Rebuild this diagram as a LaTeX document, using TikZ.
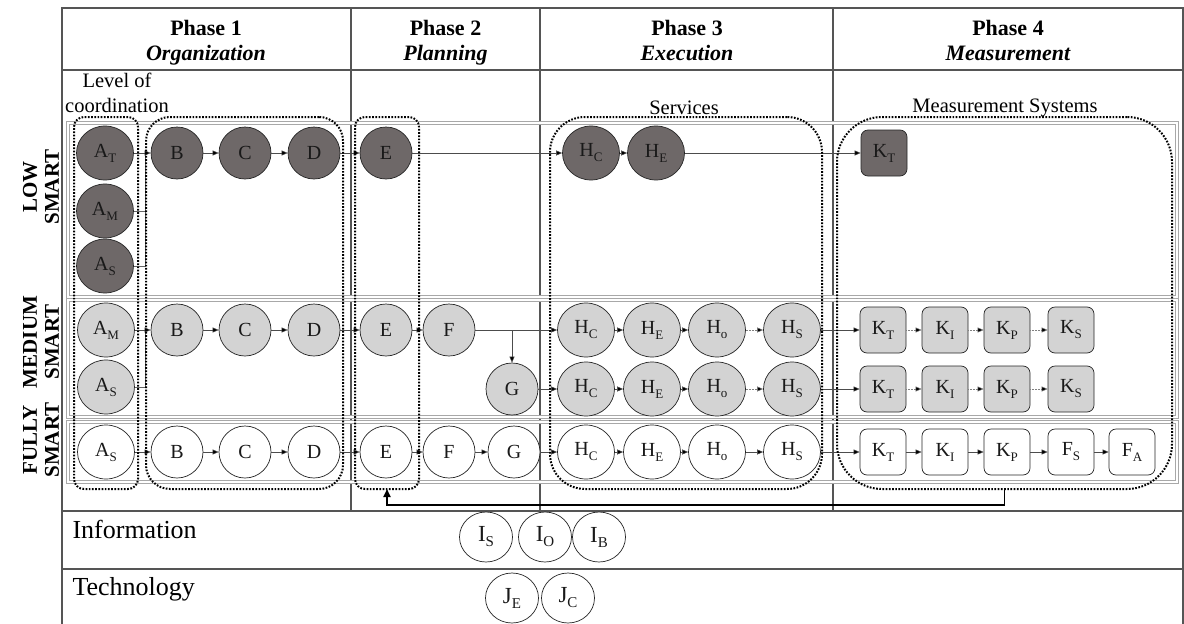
\documentclass[tikz,border=0pt]{standalone}
\usepackage{fontspec}
\setmainfont{Liberation Serif}
\usetikzlibrary{shapes.geometric,arrows.meta}
\definecolor{dkfill}{RGB}{110,104,104}
\definecolor{ltfill}{RGB}{211,211,211}
\definecolor{bandc}{RGB}{168,168,168}
\definecolor{tabc}{RGB}{85,85,85}
\newcommand\mysub[1]{\raisebox{-5pt}{\fontsize{13}{13}\selectfont #1}}
\newcommand\mysubb[1]{\raisebox{-5pt}{\fontsize{15}{15}\selectfont #1}}
\begin{document}
\begin{tikzpicture}[x=1pt,y=-1pt,
  tab/.style={draw=tabc,line width=1.1pt},
  band/.style={draw=bandc,double=white,double distance=1.6pt,line width=0.8pt},
  nd/.style={draw=black!85,line width=0.7pt,inner sep=0pt,font=\fontsize{20}{20}\selectfont,text=black!90},
  ell/.style={nd,ellipse,minimum width=57pt,minimum height=54pt},
  circ/.style={nd,circle,minimum size=52pt},
  kbox/.style={nd,rectangle,rounded corners=7pt,minimum width=46pt,minimum height=46pt},
  infoc/.style={nd,ellipse,minimum width=53pt,minimum height=50pt,font=\fontsize{23}{23}\selectfont},
  dk/.style={fill=dkfill}, lt/.style={fill=ltfill}, wh/.style={fill=white},
  arr/.style={draw=black!70,line width=0.5pt,-{Triangle[length=6pt,width=5pt,fill=black]}},
  darr/.style={arr,densely dotted,draw=gray},
  ln/.style={draw=black!60,line width=0.5pt},
  cont/.style={draw=black,line width=2pt,dash pattern=on 1.7pt off 1.5pt,inner sep=0pt,outer sep=0pt,rectangle,minimum height=372pt},
  fb/.style={draw=black,line width=1.8pt,-{Triangle[length=8pt,width=7pt]}},
  hd/.style={font=\fontsize{22}{22}\selectfont\bfseries,anchor=base},
  hdi/.style={font=\fontsize{22}{22}\selectfont\bfseries\itshape,anchor=base},
  txt/.style={font=\fontsize{20.5}{20.5}\selectfont,anchor=base},
  big/.style={font=\fontsize{26}{26}\selectfont,anchor=base west},
  rowl/.style={rotate=90,align=center,font=\fontsize{21}{22}\selectfont\bfseries}
]
\useasboundingbox (0,0) rectangle (1184,624);
\fill[white] (0,0) rectangle (1184,624);
% table
\draw[tab] (62,624) -- (62,8) -- (1183,8) -- (1183,624);
\draw[tab] (62,70) -- (1183,70);
\draw[tab] (62,511) -- (1183,511);
\draw[tab] (62,569) -- (1183,569);
\foreach \x in {351,540,833} \draw[tab] (\x,8) -- (\x,511);
% bands
\draw[band] (68,123) rectangle (1177,297);
\draw[band] (68,300) rectangle (1177,417);
\draw[band] (68,422) rectangle (1177,482);
% headers
\node[hd] (p1) at (206,35) {Phase 1};
\node[hdi] (p1b) at (206,60) {Organization};
\node[hd] (p2) at (445.5,35) {Phase 2};
\node[hdi] (p2b) at (445.5,60) {Planning};
\node[hd] (p3) at (687,35) {Phase 3};
\node[hdi] (p3b) at (687,60) {Execution};
\node[hd] (p4) at (1008,35) {Phase 4};
\node[hdi] (p4b) at (1008,60) {Measurement};
\node[txt] (lvl1) at (117,87) {Level of};
\node[txt] (lvl2) at (117,112) {coordination};
\node[txt] (srv) at (684,114) {Services};
\node[txt] (msys) at (1005,112) {Measurement Systems};
\node[big] (info) at (69,538) {Information};
\node[big] (tech) at (69,595) {Technology};
\node[rowl] (rlow) at (41,187) {LOW\\SMART};
\node[rowl] (rmed) at (41,342) {MEDIUM\\SMART};
\node[rowl] (rful) at (41,440) {FULLY\\SMART};
% low row
\node[ell,dk] (AT0) at (105,153) {A\mysub{T}};
\node[ell,dk] (AM0) at (105,211) {A\mysub{M}};
\node[ell,dk] (AS0) at (105,266) {A\mysub{S}};
\node[circ,dk] (B0) at (177,153) {B};
\node[circ,dk] (C0) at (245,153) {C};
\node[circ,dk] (D0) at (314,153) {D};
\node[circ,dk] (E0) at (386,153) {E};
\node[ell,dk] (HC0) at (591,153) {H\mysub{C}};
\node[ell,dk] (HE0) at (656,153) {H\mysub{E}};
\node[kbox,dk] (KT0) at (884,153) {K\mysub{T}};
\coordinate (jl) at (145.5,153);
\draw[ln] (AM0.east) -| (jl);
\draw[ln] (AS0.east) -| (jl);
\draw[arr] (AT0) -- (B0);
\draw[arr] (B0) -- (C0);
\draw[arr] (C0) -- (D0);
\draw[arr] (D0) -- (E0);
\draw[arr] (E0) -- (HC0);
\draw[arr] (HC0) -- (HE0);
\draw[arr] (HE0) -- (KT0);
% medium rows
\node[ell,lt] (AM1) at (106,330) {A\mysub{M}};
\node[ell,lt] (AS1) at (106,387) {A\mysub{S}};
\node[circ,lt] (B1) at (177,330) {B};
\node[circ,lt] (C1) at (245,330) {C};
\node[circ,lt] (D1) at (314,330) {D};
\node[circ,lt] (E1) at (386,330) {E};
\node[circ,lt] (F1) at (449,330) {F};
\node[circ,lt] (G1) at (512,389) {G};
\node[ell,lt] (HC1) at (586,330) {H\mysub{C}};
\node[ell,lt] (HE1) at (652,330) {H\mysub{E}};
\node[ell,lt] (Ho1) at (717,330) {H\mysub{o}};
\node[ell,lt] (HS1) at (792,330) {H\mysub{S}};
\node[ell,lt] (HC2) at (586,389) {H\mysub{C}};
\node[ell,lt] (HE2) at (652,389) {H\mysub{E}};
\node[ell,lt] (Ho2) at (717,389) {H\mysub{o}};
\node[ell,lt] (HS2) at (792,389) {H\mysub{S}};
\node[kbox,lt] (KT1) at (883,330) {K\mysub{T}};
\node[kbox,lt] (KI1) at (945,330) {K\mysub{I}};
\node[kbox,lt] (KP1) at (1007,330) {K\mysub{P}};
\node[kbox,lt] (KS1) at (1071,330) {K\mysub{S}};
\node[kbox,lt] (KT2) at (883,389) {K\mysub{T}};
\node[kbox,lt] (KI2) at (945,389) {K\mysub{I}};
\node[kbox,lt] (KP2) at (1007,389) {K\mysub{P}};
\node[kbox,lt] (KS2) at (1071,389) {K\mysub{S}};
\coordinate (jm) at (145.5,330);
\draw[ln] (AS1.east) -| (jm);
\draw[arr] (AM1) -- (B1);
\draw[arr] (B1) -- (C1);
\draw[arr] (C1) -- (D1);
\draw[arr] (D1) -- (E1);
\draw[arr] (E1) -- (F1);
\draw[arr] (F1) -- (HC1);
\draw[arr] (G1 |- F1) -- (G1);
\draw[arr] (G1) -- (HC2);
\draw[arr] (HC1) -- (HE1);
\draw[arr] (HE1) -- (Ho1);
\draw[darr] (Ho1) -- (HS1);
\draw[arr] (HS1) -- (KT1);
\draw[darr] (KT1) -- (KI1);
\draw[darr] (KI1) -- (KP1);
\draw[darr] (KP1) -- (KS1);
\draw[arr] (HC2) -- (HE2);
\draw[arr] (HE2) -- (Ho2);
\draw[darr] (Ho2) -- (HS2);
\draw[arr] (HS2) -- (KT2);
\draw[darr] (KT2) -- (KI2);
\draw[darr] (KI2) -- (KP2);
\draw[darr] (KP2) -- (KS2);
% fully row
\node[ell,wh] (AS3) at (106,452) {A\mysub{S}};
\node[circ,wh] (B3) at (177,452) {B};
\node[circ,wh] (C3) at (245,452) {C};
\node[circ,wh] (D3) at (314,452) {D};
\node[circ,wh] (E3) at (386,452) {E};
\node[circ,wh] (F3) at (449,452) {F};
\node[circ,wh] (G3) at (514,452) {G};
\node[ell,wh] (HC3) at (586,452) {H\mysub{C}};
\node[ell,wh] (HE3) at (652,452) {H\mysub{E}};
\node[ell,wh] (Ho3) at (717,452) {H\mysub{o}};
\node[ell,wh] (HS3) at (792,452) {H\mysub{S}};
\node[kbox,wh] (KT3) at (883,452) {K\mysub{T}};
\node[kbox,wh] (KI3) at (945,452) {K\mysub{I}};
\node[kbox,wh] (KP3) at (1007,452) {K\mysub{P}};
\node[kbox,wh] (FS3) at (1071,452) {F\mysub{S}};
\node[kbox,wh] (FA3) at (1132,452) {F\mysub{A}};
\draw[arr] (AS3) -- (B3);
\draw[arr] (B3) -- (C3);
\draw[arr] (C3) -- (D3);
\draw[arr] (D3) -- (E3);
\draw[arr] (E3) -- (F3);
\draw[arr] (F3) -- (G3);
\draw[arr] (G3) -- (HC3);
\draw[arr] (HC3) -- (HE3);
\draw[arr] (HE3) -- (Ho3);
\draw[arr] (Ho3) -- (HS3);
\draw[arr] (HS3) -- (KT3);
\draw[arr] (KT3) -- (KI3);
\draw[arr] (KI3) -- (KP3);
\draw[arr] (KP3) -- (FS3);
\draw[arr] (FS3) -- (FA3);
% dotted containers
\node[cont,rounded corners=10pt,minimum width=64pt] (cA) at (106,303) {};
\node[cont,rounded corners=24pt,minimum width=197pt] (cBD) at (244.5,303) {};
\node[cont,rounded corners=10pt,minimum width=64pt] (cE) at (387,303) {};
\node[cont,rounded corners=35pt,minimum width=272pt] (cH) at (686,303) {};
\node[cont,rounded corners=45pt,minimum width=335pt] (cK) at (1004.5,303) {};
\draw[fb] (cK.south) -- ++(0,16) -| (cE.south);
% information / technology
\node[infoc,wh] (IS) at (486,537) {I\mysubb{S}};
\node[infoc,wh] (IO) at (545,537) {I\mysubb{O}};
\node[infoc,wh] (IB) at (599,537) {I\mysubb{B}};
\node[infoc,wh] (JE) at (512,598) {J\mysubb{E}};
\node[infoc,wh] (JC) at (568,598) {J\mysubb{C}};
\end{tikzpicture}
\end{document}
